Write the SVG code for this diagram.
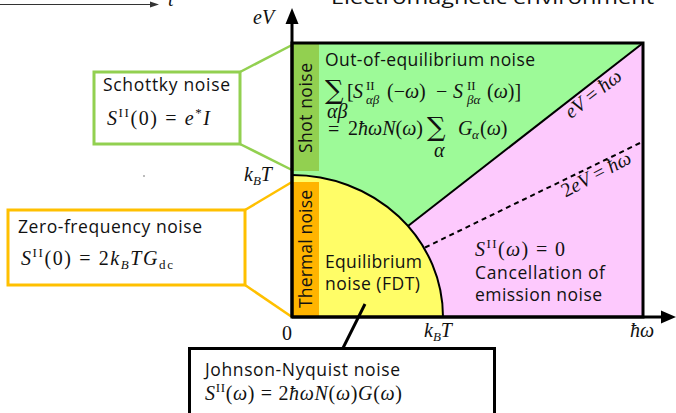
<svg xmlns="http://www.w3.org/2000/svg" width="676" height="413" viewBox="0 0 676 413">
<style>
.sans{font-family:"Open Sans","Noto Sans","DejaVu Sans",sans-serif;fill:#111;font-size:17.5px;}
.m{font-family:"Liberation Serif","DejaVu Serif",serif;font-size:20px;fill:#111;}
.i{font-style:italic;}
.sup{font-size:13px;}
.sum{font-family:"DejaVu Serif",serif;font-size:26px;fill:#111;}
.ax{stroke:#000;stroke-width:3;fill:none;}
</style>
<rect width="676" height="413" fill="#fff"/>
<g id="top-partial">
<line x1="0" y1="4.5" x2="152" y2="4.5" stroke="#333" stroke-width="1.2"/>
<polygon points="159,4.5 150,1.5 150,7.5" fill="#333"/>
<text x="168" y="6" class="m i" fill="#333">t</text>
<text x="331" y="4" class="sans" font-size="22" textLength="323" lengthAdjust="spacingAndGlyphs">Electromagnetic environment</text>
</g>
<g id="regions">
<path d="M292,43 L643,43 L408,226 A151,142 0 0,0 292,175 Z" fill="#9dfa98"/>
<path d="M643,43 L643,317 L443,317 A151,142 0 0,0 408,226 Z" fill="#fdc9fd"/>
<path d="M292,317 L443,317 A151,142 0 0,0 292,175 Z" fill="#fffd67"/>
<rect x="293" y="44" width="26" height="127" fill="#92d050"/>
<rect x="293" y="182" width="26" height="134" fill="#ffb400"/>
</g>
<g id="connectors">
<path d="M443,317 A151,142 0 0,0 292,175" fill="none" stroke="#000" stroke-width="2"/>
<line x1="643" y1="43" x2="408" y2="226" stroke="#000" stroke-width="2"/>
<line x1="640" y1="143" x2="424" y2="248" stroke="#000" stroke-width="2" stroke-dasharray="5,4"/>
<line x1="240" y1="72" x2="292" y2="45" stroke="#92d050" stroke-width="2.5"/>
<line x1="240" y1="144" x2="292" y2="170" stroke="#92d050" stroke-width="2.5"/>
<line x1="245" y1="210" x2="292" y2="182" stroke="#ffc000" stroke-width="2.5"/>
<line x1="245" y1="285" x2="292" y2="317" stroke="#ffc000" stroke-width="2.5"/>
<line x1="343" y1="348" x2="365" y2="304" stroke="#000" stroke-width="3"/>
</g>
<g id="plot-frame">
<rect x="292" y="43" width="351" height="274" class="ax"/>
<line x1="292" y1="317" x2="292" y2="22" class="ax"/>
<polygon points="292,8 285.5,24 298.5,24" fill="#000"/>
<line x1="292" y1="317" x2="662" y2="317" class="ax"/>
<polygon points="676,317 661,310.5 661,323.5" fill="#000"/>
<text x="253" y="24" class="m i">eV</text>
<text x="244" y="181" class="m"><tspan class="i">k</tspan><tspan class="i sup" dy="4">B</tspan><tspan class="i" dy="-4">T</tspan></text>
<text x="282" y="340" class="m">0</text>
<text x="424" y="337" class="m"><tspan class="i">k</tspan><tspan class="i sup" dy="4">B</tspan><tspan class="i" dy="-4">T</tspan></text>
<text x="630" y="337" class="m i">ħω</text>
</g>
<g id="shot-noise">
<text transform="translate(312,108) rotate(-90)" text-anchor="middle" class="sans" textLength="90">Shot noise</text>
</g>
<g id="thermal-noise">
<text transform="translate(312,249) rotate(-90)" text-anchor="middle" class="sans" textLength="118">Thermal noise</text>
</g>
<g id="out-of-equilibrium">
<text x="325" y="66" class="sans" textLength="210">Out-of-equilibrium noise</text>
<text x="325" y="99" class="sum">∑</text>
<text x="327" y="118" class="m i" font-size="12">αβ</text>
<text x="347" y="98" class="m">[</text>
<text x="353" y="98" class="m i">S</text>
<text x="366" y="90" class="m sup">II</text>
<text x="366" y="104" class="m i sup">αβ</text>
<text x="387" y="98" class="m">(−<tspan class="i">ω</tspan>)</text>
<text x="436" y="98" class="m">−</text>
<text x="453" y="98" class="m i">S</text>
<text x="467" y="90" class="m sup">II</text>
<text x="467" y="104" class="m i sup">βα</text>
<text x="487" y="98" class="m">(<tspan class="i">ω</tspan>)]</text>
<text x="328" y="136" class="m">=</text>
<text x="348" y="135" class="m" textLength="75">2<tspan class="i">ħωN</tspan>(<tspan class="i">ω</tspan>)</text>
<text x="427" y="136" class="sum">∑</text>
<text x="434" y="157" class="m i" font-size="12">α</text>
<text x="458" y="135" class="m i">G</text>
<text x="472" y="139" class="m i sup">α</text>
<text x="480" y="135" class="m">(<tspan class="i">ω</tspan>)</text>
<text transform="translate(597,99) rotate(-38)" text-anchor="middle" class="m i">eV <tspan font-style="normal">=</tspan> ħω</text>
<text transform="translate(599,180) rotate(-28)" text-anchor="middle" class="m i"><tspan font-style="normal">2</tspan>eV <tspan font-style="normal">=</tspan> ħω</text>
</g>
<g id="cancellation">
<text x="475" y="256" class="m" textLength="90"><tspan class="i">S</tspan><tspan class="sup" dy="-8">II</tspan><tspan dy="8">(</tspan><tspan class="i">ω</tspan>) = 0</text>
<text x="475" y="279" class="sans" textLength="130">Cancellation of</text>
<text x="475" y="301" class="sans" textLength="127">emission noise</text>
</g>
<g id="equilibrium">
<text x="325" y="268" class="sans" textLength="97">Equilibrium</text>
<text x="325" y="290" class="sans" textLength="95">noise (FDT)</text>
</g>
<g id="schottky">
<rect x="94" y="72" width="146" height="72" fill="#fff" stroke="#92d050" stroke-width="3"/>
<text x="103" y="91" class="sans" textLength="127">Schottky noise</text>
<text x="107" y="125" class="m" textLength="103"><tspan class="i">S</tspan><tspan class="sup" dy="-8">II</tspan><tspan dy="8">(0) = </tspan><tspan class="i">e</tspan><tspan class="sup" dy="-8">*</tspan><tspan class="i" dy="8">I</tspan></text>
</g>
<g id="zero-frequency">
<rect x="8" y="210" width="237" height="75" fill="#fff" stroke="#ffc000" stroke-width="3"/>
<text x="18" y="233" class="sans" textLength="184">Zero-frequency noise</text>
<text x="21" y="265" class="m" textLength="152"><tspan class="i">S</tspan><tspan class="sup" dy="-8">II</tspan><tspan dy="8">(0) = 2</tspan><tspan class="i">k</tspan><tspan class="i sup" dy="4">B</tspan><tspan class="i" dy="-4">TG</tspan><tspan class="sup" dy="4">dc</tspan></text>
</g>
<g id="johnson-nyquist">
<rect x="189.5" y="348.5" width="305" height="80" fill="#fff" stroke="#000" stroke-width="3"/>
<text x="205" y="376" class="sans" textLength="195">Johnson-Nyquist noise</text>
<text x="205" y="400" class="m" textLength="197"><tspan class="i">S</tspan><tspan class="sup" dy="-8">II</tspan><tspan dy="8">(</tspan><tspan class="i">ω</tspan>) = 2<tspan class="i">ħωN</tspan>(<tspan class="i">ω</tspan>)<tspan class="i">G</tspan>(<tspan class="i">ω</tspan>)</text>
</g>
<circle cx="144" cy="176" r="0.8" fill="#666"/>
</svg>
